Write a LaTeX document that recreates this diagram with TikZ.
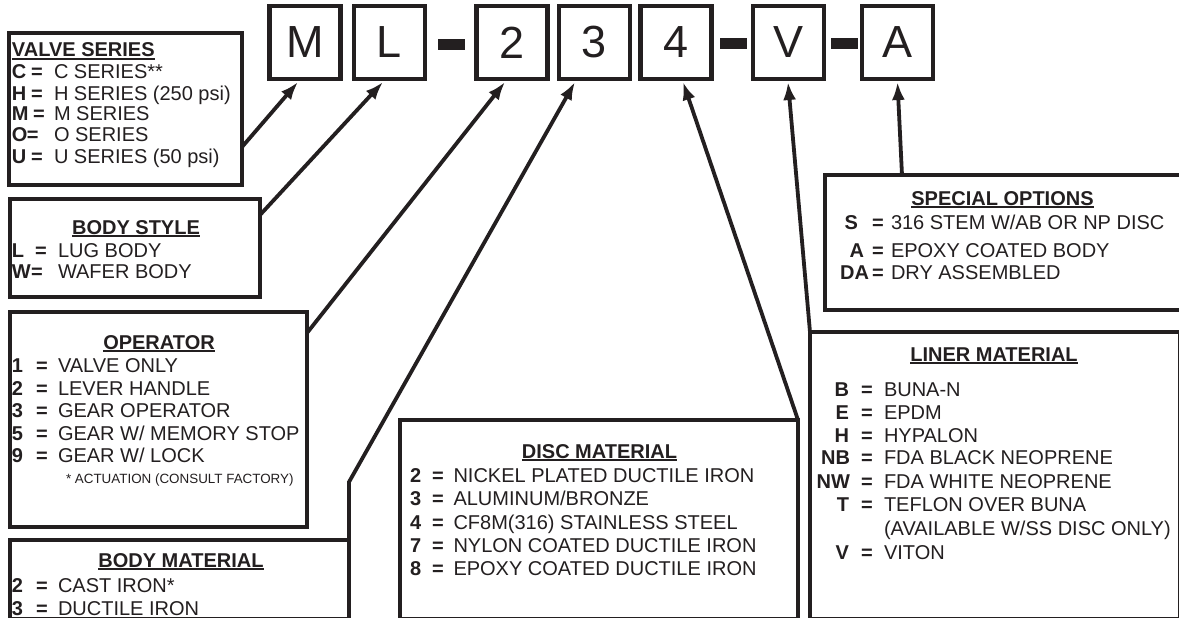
\documentclass[tikz,border=0pt]{standalone}
\usepackage{fontspec}
\setmainfont{Liberation Sans}
\usetikzlibrary{arrows.meta,calc}
\definecolor{ink}{RGB}{35,31,32}
\newcommand\ttl[1]{\setbox0\hbox{\bfseries #1}\rlap{\rule[-2.6pt]{\wd0}{1.6pt}}\box0}
\newcommand\entry[8]{%
  \node[keyf,anchor=base #4] (#1k) at (#3,#2) {#5};
  \node[keyf,anchor=base west] (#1e) at (#6,#2) {=};
  \node[txt,anchor=base west] (#1t) at (#7,#2) {#8};}
\begin{document}
\begin{tikzpicture}[x=1pt,y=-1pt,
  box/.style={draw=ink,line width=4.5pt,rectangle,inner sep=0pt,outer sep=0pt,anchor=north west},
  letbox/.style={draw=ink,line width=4.5pt,inner sep=0pt,outer sep=0pt,minimum width=71pt,minimum height=73pt,font=\fontsize{45}{45}\selectfont,text=ink},
  dashbar/.style={fill=ink,inner sep=0pt,outer sep=0pt,minimum width=27pt,minimum height=11pt},
  txt/.style={inner sep=0pt,outer sep=0pt,text=ink,font=\fontsize{20}{24}\selectfont},
  keyf/.style={inner sep=0pt,outer sep=0pt,text=ink,font=\fontsize{20}{24}\selectfont\bfseries},
  conn/.style={draw=ink,line width=3.8pt,line join=miter,-{Latex[length=18pt,width=13pt]}}]
\useasboundingbox (0,0) rectangle (1179,618);
\clip (0,0) rectangle (1179,618);
\fill[white] (0,0) rectangle (1179,618);

% code letters
\node[letbox] (bM) at (305,42.5) {M};
\node[letbox] (bL) at (389.5,42.5) {L};
\node[dashbar] (d1) at (451.5,44.5) {};
\node[letbox] (b2) at (512,42.5) {2};
\node[letbox] (b3) at (594.5,42.5) {3};
\node[letbox] (b4) at (676,42.5) {4};
\node[dashbar] (d2) at (733.5,44) {};
\node[letbox] (bV) at (788.5,42.5) {V};
\node[dashbar] (d3) at (844,44) {};
\node[letbox] (bA) at (897.5,42.5) {A};

% boxes
\node[box,minimum width=233pt,minimum height=152pt] (vs) at (9,33) {};
\node[box,minimum width=250pt,minimum height=98pt] (bs) at (10,199) {};
\node[box,minimum width=297pt,minimum height=215pt] (op) at (10,312) {};
\node[box,minimum width=339pt,minimum height=79pt] (bm) at (10,540) {};
\node[box,minimum width=398pt,minimum height=199pt] (dm) at (400,420) {};
\node[box,minimum width=370pt,minimum height=287pt] (lm) at (810,332) {};
\node[box,minimum width=365pt,minimum height=135pt] (sp) at (825,175) {};

% arrow tips
\coordinate (tM) at ([xshift=-7pt,yshift=-3pt]bM.south);
\coordinate (tL) at ([xshift=-6.5pt,yshift=-3pt]bL.south);
\coordinate (t2) at ([xshift=-7pt,yshift=-3pt]b2.south);
\coordinate (t3) at ([xshift=-19.5pt,yshift=-3pt]b3.south);
\coordinate (t4) at ([xshift=7pt,yshift=-3pt]b4.south);
\coordinate (tV) at ([xshift=-0.5pt,yshift=-3pt]bV.south);
\coordinate (tA) at ([yshift=-3pt]bA.south);
\coordinate (bend3) at ([yshift=58pt]bm.north east);

% connectors
\draw[conn] ([yshift=-38pt]vs.east) -- (tM);
\draw[conn] ([yshift=-16pt]bs.north east) -- (tL);
\draw[conn] ([yshift=-21pt]op.north east) -- (t2);
\draw[conn] (bm.north east) -- (bend3) -- (t3);
\draw[conn] (dm.north east) -- (t4);
\draw[conn] (lm.north west) -- (tV);
\draw[conn] ([xshift=77pt]sp.north west) -- (tA);

% VALVE SERIES
\node[txt,anchor=base west] (vst) at (12,57) {\ttl{VALVE SERIES}};
\entry{vc}{79}{12}{west}{C}{31}{54}{C SERIES**}
\entry{vh}{100}{12}{west}{H}{31}{54}{H SERIES (250 psi)}
\entry{vm}{121}{12}{west}{M}{33}{54}{M SERIES}
\entry{vo}{142}{12}{west}{O}{27}{54}{O SERIES}
\entry{vu}{163}{12}{west}{U}{31}{54}{U SERIES (50 psi)}

% BODY STYLE
\node[txt,anchor=base] (bst) at (136,234) {\ttl{BODY STYLE}};
\entry{bl}{257}{12}{west}{L}{35}{58}{LUG BODY}
\entry{bw}{278}{12}{west}{W}{31}{58}{WAFER BODY}

% OPERATOR
\node[txt,anchor=base] (opt) at (159,349) {\ttl{OPERATOR}};
\entry{o1}{372}{12}{west}{1}{36}{58}{VALVE ONLY}
\entry{o2}{395}{12}{west}{2}{36}{58}{LEVER HANDLE}
\entry{o3}{417}{12}{west}{3}{36}{58}{GEAR OPERATOR}
\entry{o5}{440}{12}{west}{5}{36}{58}{GEAR W/ MEMORY STOP}
\entry{o9}{462}{12}{west}{9}{36}{58}{GEAR W/ LOCK}
\node[txt,font=\fontsize{13.4}{15}\selectfont,anchor=base west] (opf) at (66,483.5) {* ACTUATION (CONSULT FACTORY)};

% BODY MATERIAL
\node[txt,anchor=base] (bmt) at (181,567) {\ttl{BODY MATERIAL}};
\entry{m2}{592}{12}{west}{2}{36}{58}{CAST IRON*}
\entry{m3}{615}{12}{west}{3}{36}{58}{DUCTILE IRON}

% DISC MATERIAL
\node[txt,anchor=base] (dmt) at (599.5,458) {\ttl{DISC MATERIAL}};
\entry{d2}{482}{410}{west}{2}{432}{453.5}{NICKEL PLATED DUCTILE IRON}
\entry{d3}{505}{410}{west}{3}{432}{453.5}{ALUMINUM/BRONZE}
\entry{d4}{529}{410}{west}{4}{432}{453.5}{CF8M(316) STAINLESS STEEL}
\entry{d7}{552}{410}{west}{7}{432}{453.5}{NYLON COATED DUCTILE IRON}
\entry{d8}{575}{410}{west}{8}{432}{453.5}{EPOXY COATED DUCTILE IRON}

% SPECIAL OPTIONS
\node[txt,anchor=base] (spt) at (1002.5,205) {\ttl{SPECIAL OPTIONS}};
\entry{ss}{229}{858}{east}{S}{872}{891}{316 STEM W/AB OR NP DISC}
\entry{sa}{257}{864}{east}{A}{872}{891}{EPOXY COATED BODY}
\entry{sd}{279}{869}{east}{DA}{872}{891}{DRY ASSEMBLED}

% LINER MATERIAL
\node[txt,anchor=base] (lmt) at (994,361) {\ttl{LINER MATERIAL}};
\entry{lb}{396}{849}{east}{B}{861}{884}{BUNA-N}
\entry{le}{419}{849}{east}{E}{861}{884}{EPDM}
\entry{lh}{442}{849}{east}{H}{861}{884}{HYPALON}
\entry{lnb}{464}{850}{east}{NB}{861}{884}{FDA BLACK NEOPRENE}
\entry{lnw}{488}{850}{east}{NW}{861}{884}{FDA WHITE NEOPRENE}
\entry{lt}{511}{849}{east}{T}{861}{884}{TEFLON OVER BUNA}
\node[txt,anchor=base west] (lta) at (884,535) {(AVAILABLE W/SS DISC ONLY)};
\entry{lv}{559}{849}{east}{V}{861}{884}{VITON}
\end{tikzpicture}
\end{document}
